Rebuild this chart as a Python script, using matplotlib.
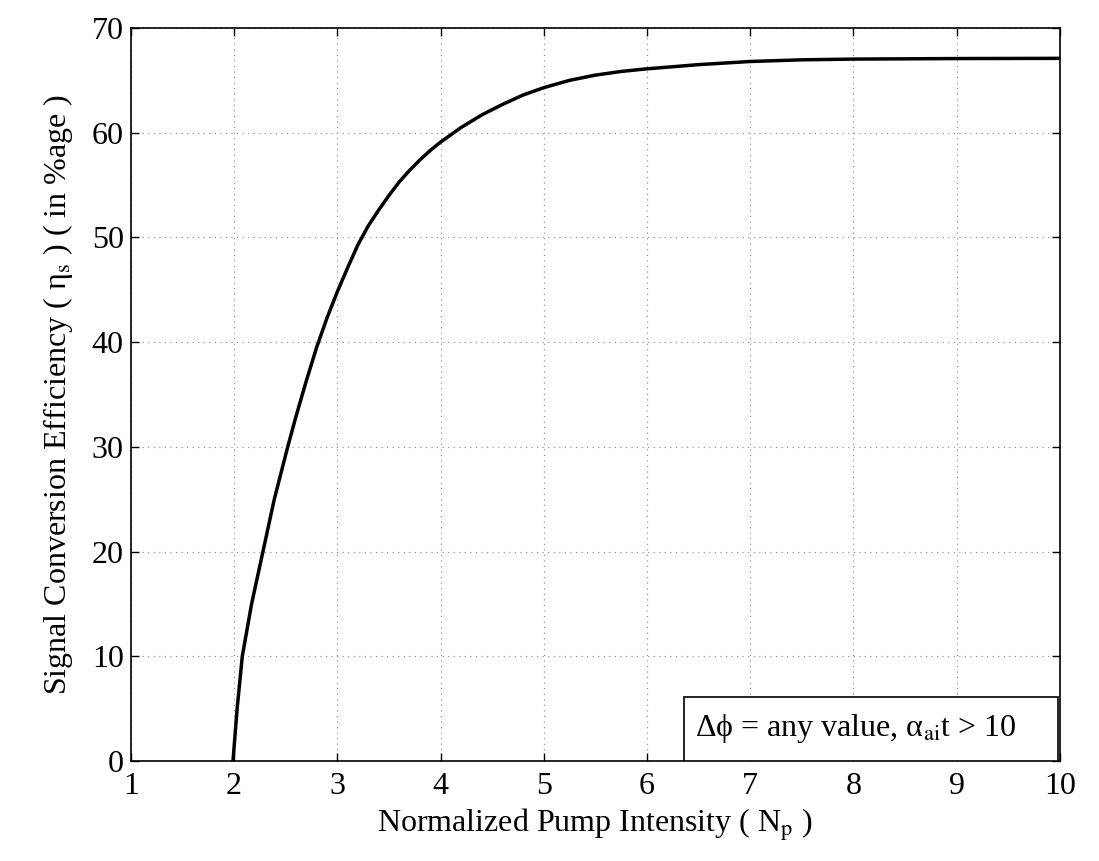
import numpy as np
import matplotlib
matplotlib.use("Agg")
import matplotlib.pyplot as plt
from matplotlib.patches import Rectangle

# values
pump_np = [1.99, 2.03, 2.08, 2.17, 2.28, 2.39, 2.52, 2.60, 2.70, 2.80, 2.90, 3.0,
           3.1, 3.2, 3.3, 3.4, 3.5, 3.6, 3.7, 3.8, 3.9, 4.0, 4.2, 4.4, 4.6, 4.8,
           5.0, 5.25, 5.5, 5.75, 6.0, 6.5, 7.0, 7.5, 8.0, 9.0, 10.0]
eta_s = [0.0, 5.0, 10.0, 15.0, 20.0, 25.0, 30.0, 32.9, 36.3, 39.5, 42.3, 44.8,
         47.1, 49.3, 51.1, 52.6, 54.0, 55.3, 56.4, 57.4, 58.3, 59.1, 60.5, 61.7,
         62.7, 63.6, 64.3, 65.0, 65.5, 65.85, 66.1, 66.5, 66.8, 66.96, 67.03, 67.08, 67.1]
x_ticks = list(range(1, 11))
y_ticks = list(range(0, 80, 10))

plt.rcParams["font.family"] = ["Liberation Serif", "DejaVu Serif"]
plt.rcParams["mathtext.fontset"] = "stix"

fig = plt.figure(figsize=(10.99, 8.61), dpi=100)
ax = fig.add_axes([0.119, 0.1161, 0.8455, 0.8514])

ax.plot(pump_np, eta_s, color="black", lw=2.5)

ax.set_xlim(1, 10)
ax.set_ylim(0, 70)
ax.set_xticks(x_ticks)
ax.set_yticks(y_ticks)
ax.tick_params(direction="in", length=6, labelsize=23, top=True, right=True, width=1)
ax.tick_params(axis="x", pad=8)
ax.tick_params(axis="y", pad=5)
ax.grid(True, linestyle=(0, (1, 4)), color="#888888", lw=0.8)
for s in ax.spines.values():
    s.set_linewidth(1.2)

ax.set_xlabel("Normalized Pump Intensity ( N$_{\\rm p}$ )", fontsize=23, labelpad=4)
ax.set_ylabel("Signal Conversion Efficiency ( \u03b7$_{\\rm s}$ ) ( in %age )", fontsize=23, labelpad=12)

# annotation box, bottom right
ax.add_patch(Rectangle((0.595, 0.0), 0.403, 0.087, transform=ax.transAxes,
                       facecolor="white", edgecolor="black", lw=1.2, zorder=5))
ax.text(0.607, 0.044, "\u0394\u03d5 = any value, \u03b1$_{\\rm ai}$t > 10", transform=ax.transAxes,
        fontsize=23, va="center", ha="left", zorder=6)

fig.savefig("out.png", dpi=100)
